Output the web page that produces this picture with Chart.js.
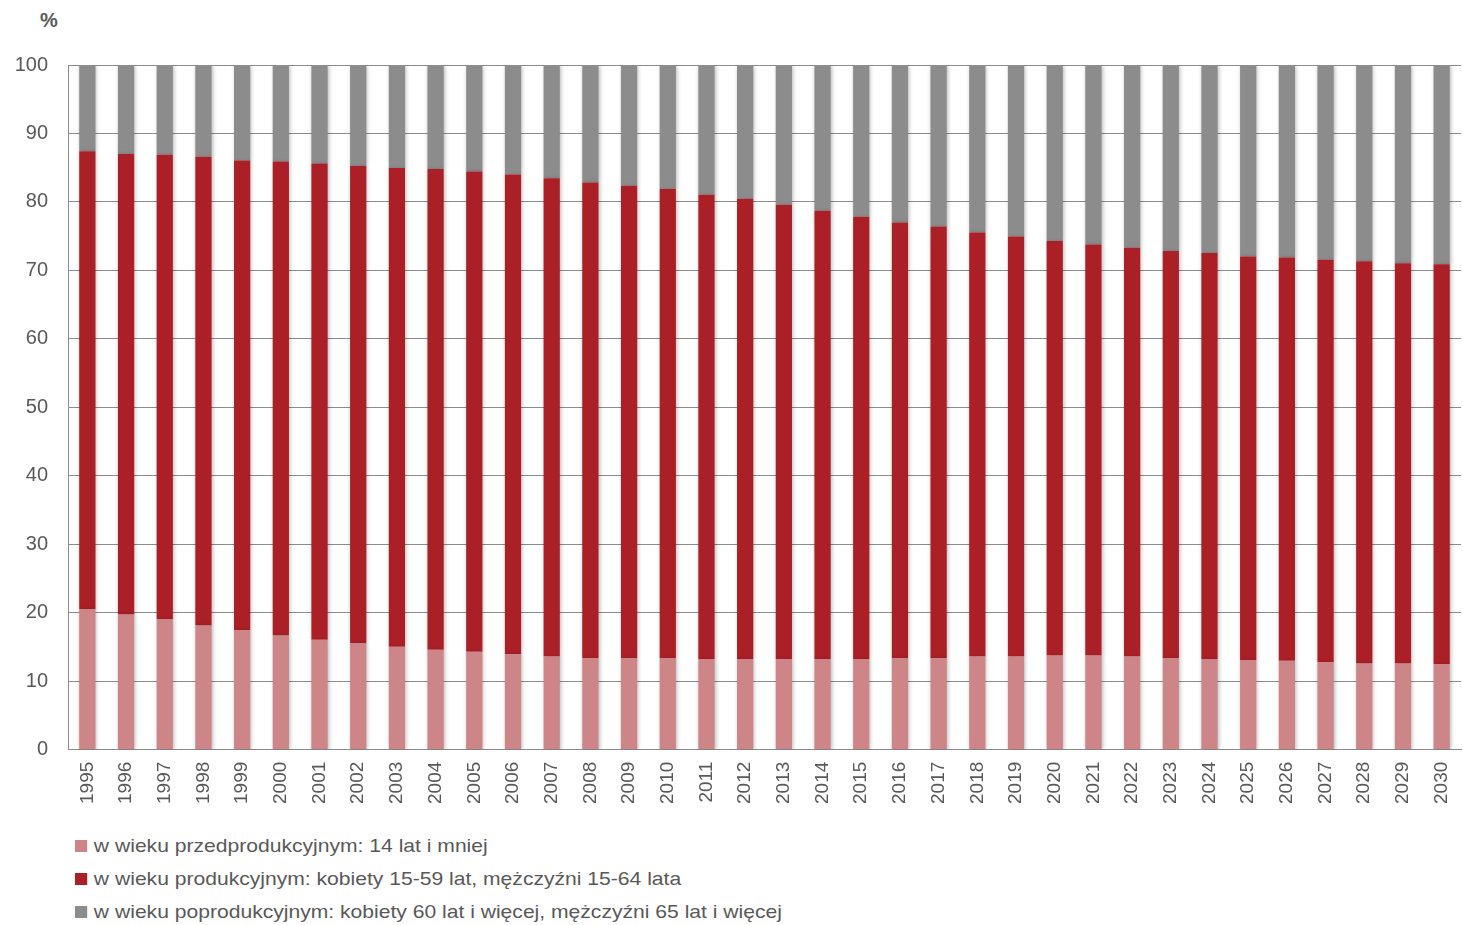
<!DOCTYPE html>
<html>
<head>
<meta charset="utf-8">
<script src="https://cdn.jsdelivr.net/npm/chart.js@4.4.1/dist/chart.umd.min.js"></script>
<style>
  html,body{margin:0;padding:0;background:#fff;}
  body{width:1463px;height:925px;position:relative;overflow:hidden;font-family:"Liberation Sans",Arial,sans-serif;}
  #wrap{position:absolute;left:0;top:0;width:1463px;height:820px;}
  #pct{position:absolute;left:40px;top:9px;font-size:20px;font-weight:bold;color:#595959;}
  #legend{position:absolute;left:75px;top:834px;font-size:19px;color:#595959;transform:scaleX(1.11);transform-origin:0 0;}
  #legend div{height:33px;line-height:24px;white-space:nowrap;}
  #legend span.box{display:inline-block;width:11px;height:12px;margin-right:6px;vertical-align:0px;}
</style>
</head>
<body>
<div id="pct">%</div>
<div id="wrap"><canvas id="c"></canvas></div>
<div id="legend"></div>
<script>
  const years = ['1995','1996','1997','1998','1999','2000','2001','2002','2003','2004','2005','2006',
    '2007','2008','2009','2010','2011','2012','2013','2014','2015','2016','2017','2018',
    '2019','2020','2021','2022','2023','2024','2025','2026','2027','2028','2029','2030'];

  // w wieku przedprodukcyjnym (%)
  const young = [20.5,19.75,19.1,18.15,17.45,16.7,16.05,15.55,15.05,14.6,14.3,13.95,
    13.6,13.4,13.4,13.4,13.25,13.25,13.25,13.25,13.25,13.4,13.4,13.6,
    13.6,13.75,13.75,13.6,13.4,13.25,13.1,13.0,12.8,12.6,12.6,12.5];
  // w wieku produkcyjnym (%)
  const working = [66.9,67.25,67.8,68.45,68.6,69.2,69.55,69.7,69.9,70.2,70.15,70.05,
    69.85,69.45,68.95,68.5,67.8,67.2,66.35,65.45,64.6,63.6,63.0,61.95,
    61.35,60.55,60.05,59.7,59.45,59.3,58.95,58.9,58.75,58.75,58.45,58.4];
  // w wieku poprodukcyjnym (%)
  const old = [12.6,13.0,13.1,13.4,13.95,14.1,14.4,14.75,15.05,15.2,15.55,16.0,
    16.55,17.15,17.65,18.1,18.95,19.55,20.4,21.3,22.15,23.0,23.6,24.45,
    25.05,25.7,26.2,26.7,27.15,27.45,27.95,28.1,28.45,28.65,28.95,29.1];

  const seriesNames = [
    'w wieku przedprodukcyjnym: 14 lat i mniej',
    'w wieku produkcyjnym: kobiety 15-59 lat, mężczyźni 15-64 lata',
    'w wieku poprodukcyjnym: kobiety 60 lat i więcej, mężczyźni 65 lat i więcej'
  ];
  const colors = ['#cd8588','#ab1f27','#8c8c8c'];
  const yTicks = [0,10,20,30,40,50,60,70,80,90,100];

  const txt = '#595959';
  const fam = '"Liberation Sans", Arial, sans-serif';

  const ds = [young, working, old].map((d,i)=>({
    label: seriesNames[i], data: d, backgroundColor: colors[i],
    borderWidth: 0, barPercentage: 0.42, categoryPercentage: 1.0
  }));

  // lekki cień słupków jak w Excelu
  const shadow = {
    id: 'shadow',
    beforeDatasetsDraw(c){ const x=c.ctx; x.save(); x.shadowColor='rgba(0,0,0,0.28)'; x.shadowBlur=4; x.shadowOffsetX=1; x.shadowOffsetY=1; },
    afterDatasetsDraw(c){ c.ctx.restore(); }
  };

  new Chart(document.getElementById('c'), {
    type: 'bar',
    data: { labels: years, datasets: ds },
    plugins: [shadow],
    options: {
      responsive: true, maintainAspectRatio: false, animation: false,
      layout: { padding: { left: 0, top: 65, right: 0, bottom: 12 } },
      plugins: { legend: { display: false }, tooltip: { enabled: false } },
      scales: {
        x: {
          stacked: true,
          grid: { display: false },
          border: { color: '#8c8c8c', width: 1 },
          ticks: { color: txt, font: {family: fam, size: 19}, minRotation: 90, maxRotation: 90, padding: 4, autoSkip: false },
          afterFit: (ax)=>{ ax.paddingRight = 2; ax.paddingLeft = 0; }
        },
        y: {
          stacked: true, min: 0, max: 100,
          afterBuildTicks: (ax)=>{ ax.ticks = yTicks.map(v=>({value:v})); },
          afterFit: (ax)=>{ ax.width = 68; },
          grid: { color: '#8c8c8c', lineWidth: 1, drawTicks: false },
          border: { color: '#8c8c8c', width: 1 },
          ticks: { color: txt, font: {family: fam, size: 20}, padding: 20 }
        }
      }
    }
  });

  // legenda
  const lg = document.getElementById('legend');
  seriesNames.forEach((n,i)=>{
    const row = document.createElement('div');
    row.innerHTML = '<span class="box" style="background:'+colors[i]+'"></span>'+n;
    lg.appendChild(row);
  });
</script>
</body>
</html>
